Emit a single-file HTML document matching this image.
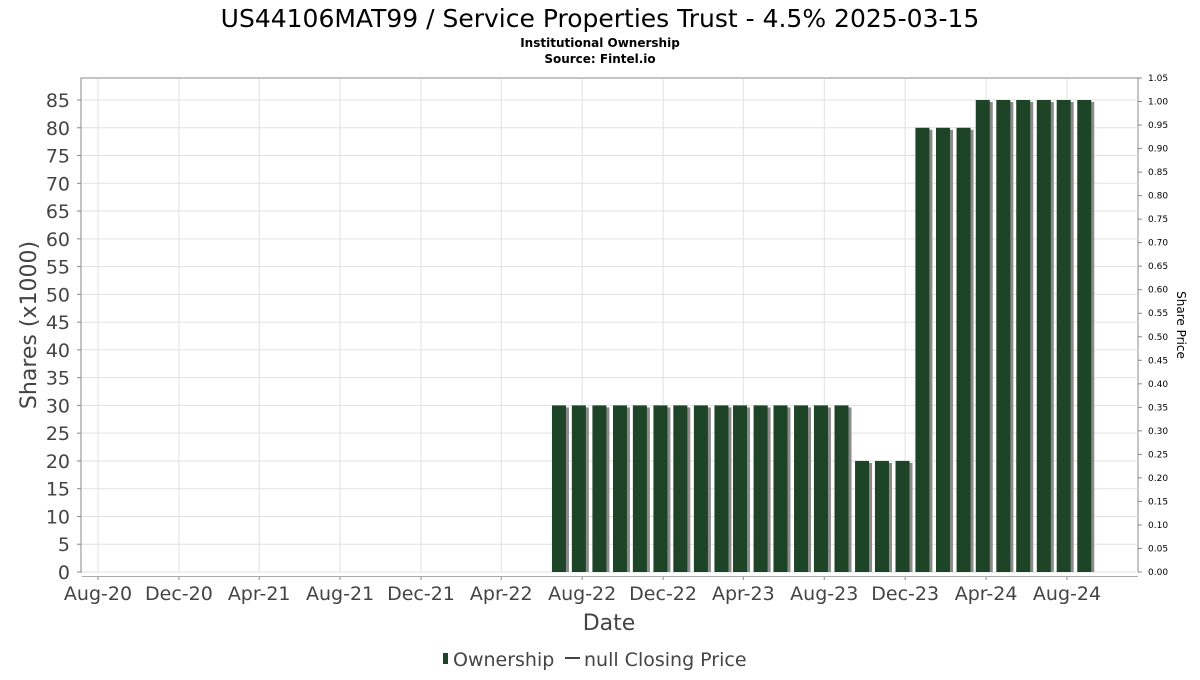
<!DOCTYPE html>
<html><head><meta charset="utf-8"><style>
body{margin:0;background:#fff;}
svg text{font-family:"DejaVu Sans","Liberation Sans",sans-serif;}
</style></head><body>
<svg id="chart" width="1200" height="675" xmlns="http://www.w3.org/2000/svg">
<rect width="1200" height="675" fill="#fff"/>
<text x="600" y="27" text-anchor="middle" font-size="25" fill="#000">US44106MAT99 / Service Properties Trust - 4.5% 2025-03-15</text>
<text x="600" y="47" text-anchor="middle" font-size="12" font-weight="bold" fill="#000">Institutional Ownership</text>
<text x="600" y="63" text-anchor="middle" font-size="12" font-weight="bold" fill="#000">Source: Fintel.io</text>
<rect x="81" y="78" width="1057" height="494" fill="#fff" stroke="#888"/>
<g id="grid"></g>
<g id="bars"></g>
<g id="axes"></g>
<text transform="translate(36,325) rotate(-90)" text-anchor="middle" font-size="22" fill="#444">Shares (x1000)</text>
<text transform="translate(1177,325) rotate(90)" text-anchor="middle" font-size="12" fill="#000">Share Price</text>
<text x="609" y="630" text-anchor="middle" font-size="22" fill="#444">Date</text>
<g>
<rect x="443" y="653" width="5" height="11" fill="#1d4426"/>
<text x="453" y="666" font-size="19" fill="#444">Ownership</text>
<line x1="565" y1="658" x2="580" y2="658" stroke="#444" stroke-width="2"/>
<text x="584" y="666" font-size="19" fill="#444">null Closing Price</text>
</g>
</svg>
<script>
const barDates = ["2022-06-27","2022-07-27","2022-08-27","2022-09-27","2022-10-27","2022-11-27","2022-12-27","2023-01-27","2023-02-27","2023-03-27","2023-04-27","2023-05-27","2023-06-27","2023-07-27","2023-08-27","2023-09-27","2023-10-27","2023-11-27","2023-12-27","2024-01-27","2024-02-27","2024-03-27","2024-04-27","2024-05-27","2024-06-27","2024-07-27","2024-08-27"];
const ownershipValues = [30,30,30,30,30,30,30,30,30,30,30,30,30,30,30,20,20,20,80,80,80,85,85,85,85,85,85];
const xTickLabels = ["Aug-20","Dec-20","Apr-21","Aug-21","Dec-21","Apr-22","Aug-22","Dec-22","Apr-23","Aug-23","Dec-23","Apr-24","Aug-24"];
const xTickDates = ["2020-08-01","2020-12-01","2021-04-01","2021-08-01","2021-12-01","2022-04-01","2022-08-01","2022-12-01","2023-04-01","2023-08-01","2023-12-01","2024-04-01","2024-08-01"];
const yTicks = [0,5,10,15,20,25,30,35,40,45,50,55,60,65,70,75,80,85];
const y2Ticks = ["0.00","0.05","0.10","0.15","0.20","0.25","0.30","0.35","0.40","0.45","0.50","0.55","0.60","0.65","0.70","0.75","0.80","0.85","0.90","0.95","1.00","1.05"];

const NS="http://www.w3.org/2000/svg";
const t0=Date.parse("2020-08-01"), t1=Date.parse("2024-08-01");
function xs(d){return 98+(Date.parse(d)-t0)/(t1-t0)*(1067-98);}
function ys(v){return 572-v*(572-100)/85;}
function y2s(v){return 572-v*(572-78)/1.05;}
function mk(tag,attrs,parent){const e=document.createElementNS(NS,tag);for(const k in attrs)e.setAttribute(k,attrs[k]);parent.appendChild(e);return e;}
const grid=document.getElementById('grid'),bars=document.getElementById('bars'),axes=document.getElementById('axes');
yTicks.forEach(v=>{
  const y=ys(v);
  const l=mk('line',{x1:82,x2:1138,y1:y,y2:y,stroke:'#e0e0e0'},grid);
  
  
  mk('line',{x1:77,x2:81,y1:y,y2:y,stroke:'#888'},axes);
  const t=mk('text',{x:70,y:y+7,'text-anchor':'end','font-size':19,fill:'#444'},axes);
  t.textContent=v;
  
  
});
y2Ticks.forEach(s=>{
  const y=y2s(parseFloat(s));
  mk('line',{x1:1138,x2:1142,y1:y,y2:y,stroke:'#888'},axes);
  const t=mk('text',{x:1148,y:y+3,'font-size':9,fill:'#000'},axes);
  t.textContent=s;
  
  
});
xTickDates.forEach((d,i)=>{
  const x=xs(d);
  const l=mk('line',{x1:x,x2:x,y1:79,y2:572,stroke:'#e0e0e0'},grid);
  
  
  mk('line',{x1:x,x2:x,y1:576,y2:580,stroke:'#888'},axes);
  const t=mk('text',{x:x,y:600,'text-anchor':'middle','font-size':19,fill:'#444'},axes);
  t.textContent=xTickLabels[i];
  
  
});
mk('line',{x1:82,x2:1138,y1:576.5,y2:576.5,stroke:'#aaa'},axes);
barDates.forEach((d,i)=>{
  const x=xs(d), y=ys(ownershipValues[i]);
  const s=mk('rect',{x:x-7+3,y:y+2,width:14,height:572-y-2,fill:'#8a8a8a'},bars);
  
  
  const b=mk('rect',{x:x-7,y:y,width:14,height:572-y,fill:'#1d4426'},bars);
  
  
});
</script>
</body></html>
